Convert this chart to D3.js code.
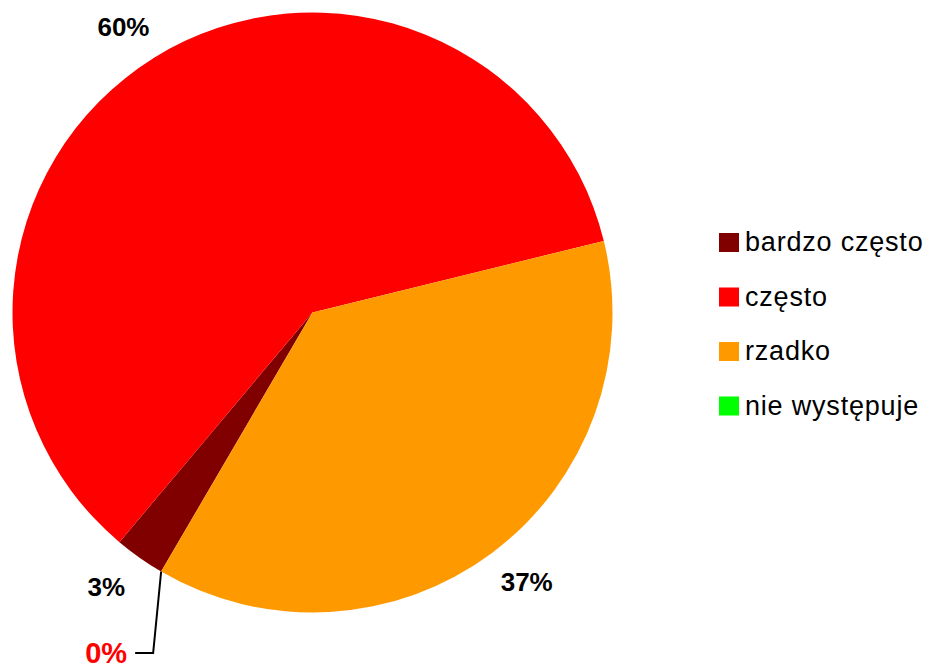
<!DOCTYPE html>
<html>
<head>
<meta charset="utf-8">
<script src="https://cdn.jsdelivr.net/npm/d3@7"></script>
<style>
    body { margin: 0; background: #ffffff; }
    svg { display: block; }
    .legendText { font-family: "Liberation Sans", Arial, sans-serif; font-size: 27px; letter-spacing: 0.8px; fill: #000000; }
    .pieLabel { font-family: "Liberation Sans", Arial, sans-serif; font-size: 26px; font-weight: bold; fill: #000000; }
</style>
</head>
<body>
<div id="chart"></div>
<script>
var categories = ["bardzo często", "często", "rzadko", "nie występuje"];
var values = [2.71, 60.04, 37.25, 0];
var colors = ["#800000", "#FF0000", "#FF9900", "#00FF00"];

var width = 931;
var height = 666;
var cx = 312.5;
var cy = 312.5;
var radius = 300;
var startDeg = 210.3;

buildPie();

function buildPie(){
    var svg = d3.select("#chart")
        .append("svg")
        .attr("width", width)
        .attr("height", height);

    var pie = d3.pie()
        .sort(null)
        .value(function(d) { return d; })
        .startAngle(startDeg * Math.PI / 180)
        .endAngle((startDeg + 360) * Math.PI / 180);

    var arcs = pie(values);

    var arc = d3.arc()
        .innerRadius(0)
        .outerRadius(radius);

    var g = svg.append("g")
        .attr("transform", "translate(" + cx + "," + cy + ")");

    g.selectAll("path")
        .data(arcs)
        .enter()
        .append("path")
        .attr("d", arc)
        .attr("fill", function(d, i) { return colors[i]; });

    var fmt = function(v) { return d3.format(".0f")(v) + "%"; };

    // labels outside the pie (slightly wider horizontally, like the original)
    var rx = 358;
    var ry = 336;
    g.selectAll("text.pieLabel")
        .data(arcs.filter(function(d) { return d.value > 0; }))
        .enter()
        .append("text")
        .attr("class", "pieLabel")
        .attr("text-anchor", "middle")
        .attr("dominant-baseline", "central")
        .attr("x", function(d) { return Math.sin((d.startAngle + d.endAngle) / 2) * rx; })
        .attr("y", function(d) { return -Math.cos((d.startAngle + d.endAngle) / 2) * ry; })
        .text(function(d) { return fmt(d.value); });

    // the empty slice gets a leader line and a red label
    arcs.filter(function(d) { return d.value == 0; }).forEach(function(d) {
        var a = d.startAngle;
        var p0 = [Math.sin(a) * radius, -Math.cos(a) * radius];
        var p1 = [p0[0] - 8, 653 - cy];
        var p2 = [p1[0] - 18, p1[1]];
        g.append("polyline")
            .attr("points", [p0, p1, p2].map(function(p) { return p.join(","); }).join(" "))
            .attr("fill", "none")
            .attr("stroke", "#000000")
            .attr("stroke-width", 2);
        g.append("text")
            .attr("class", "pieLabel")
            .attr("text-anchor", "end")
            .attr("dominant-baseline", "central")
            .attr("x", p2[0] - 8)
            .attr("y", p2[1])
            .style("fill", "#FF0000")
            .style("font-size", "29px")
            .text(fmt(d.value));
    });

    var legend = svg.append("g")
        .attr("transform", "translate(719,233)");

    var item = legend.selectAll("g")
        .data(categories)
        .enter()
        .append("g")
        .attr("transform", function(d, i) { return "translate(0," + (i * 54.5) + ")"; });

    item.append("rect")
        .attr("width", 20)
        .attr("height", 19)
        .attr("fill", function(d, i) { return colors[i]; });

    item.append("text")
        .attr("class", "legendText")
        .attr("x", 26)
        .attr("y", 18)
        .text(function(d) { return d; });
}
</script>
</body>
</html>
